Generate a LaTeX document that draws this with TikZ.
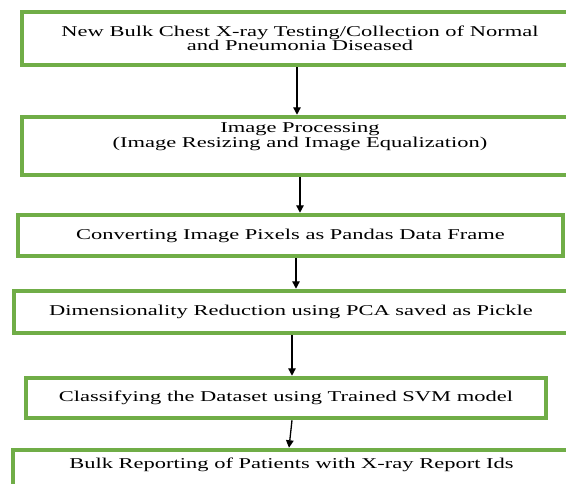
\documentclass[tikz,border=0pt]{standalone}
\usepackage{fontspec}
\setmainfont{Liberation Serif}[FakeStretch=1.5]
\usetikzlibrary{arrows.meta,calc}
\definecolor{boxgreen}{HTML}{70AD47}
\tikzset{
  stepbox/.style={draw=boxgreen, line width=4.5pt, rectangle, align=center,
    inner sep=0pt, font=\fontsize{15}{14.5}\selectfont, text=black},
  arr/.style={draw=black, line width=1.3pt, -{Triangle[length=7.5pt,width=7.5pt]}}
}
\begin{document}
\begin{tikzpicture}[x=1pt,y=-1pt]
\useasboundingbox (0,0) rectangle (566,483);
\node[stepbox, minimum width=556pt, minimum height=53pt] (b1) at (300,38.5)
  {New Bulk Chest X-ray Testing/Collection of Normal\\and Pneumonia Diseased};
\node[stepbox, minimum width=556pt, minimum height=58pt] (b2) at (300,146)
  {Image Processing\\(Image Resizing and Image Equalization)\\[7pt]\mbox{}};
\node[stepbox, minimum width=545pt, minimum height=41pt] (b3) at (290.5,235.5)
  {Converting Image Pixels as Pandas Data Frame};
\node[stepbox, minimum width=554pt, minimum height=42pt] (b4) at (291,312)
  {Dimensionality Reduction using PCA saved as Pickle};
\node[stepbox, minimum width=520pt, minimum height=40pt] (b5) at (286,398)
  {Classifying the Dataset using Trained SVM model};
\node[stepbox, minimum width=557pt, minimum height=44pt] (b6) at (291.5,472)
  {Bulk Reporting of Patients with X-ray Report Ids\\[3pt]\mbox{}};
\draw[arr] ([xshift=-3pt]b1.south) -- ([xshift=-3pt]b1.south |- b2.north);
\draw[arr] (b2.south) -- (b2.south |- b3.north);
\draw[arr] ([xshift=5.5pt]b3.south) -- ([xshift=5.5pt]b3.south |- b4.north);
\draw[arr] ([xshift=1pt]b4.south) -- ([xshift=1pt]b4.south |- b5.north);
\draw[arr] ([xshift=6pt]b5.south) -- ([xshift=3pt]b5.south |- b6.north);
\end{tikzpicture}
\end{document}
